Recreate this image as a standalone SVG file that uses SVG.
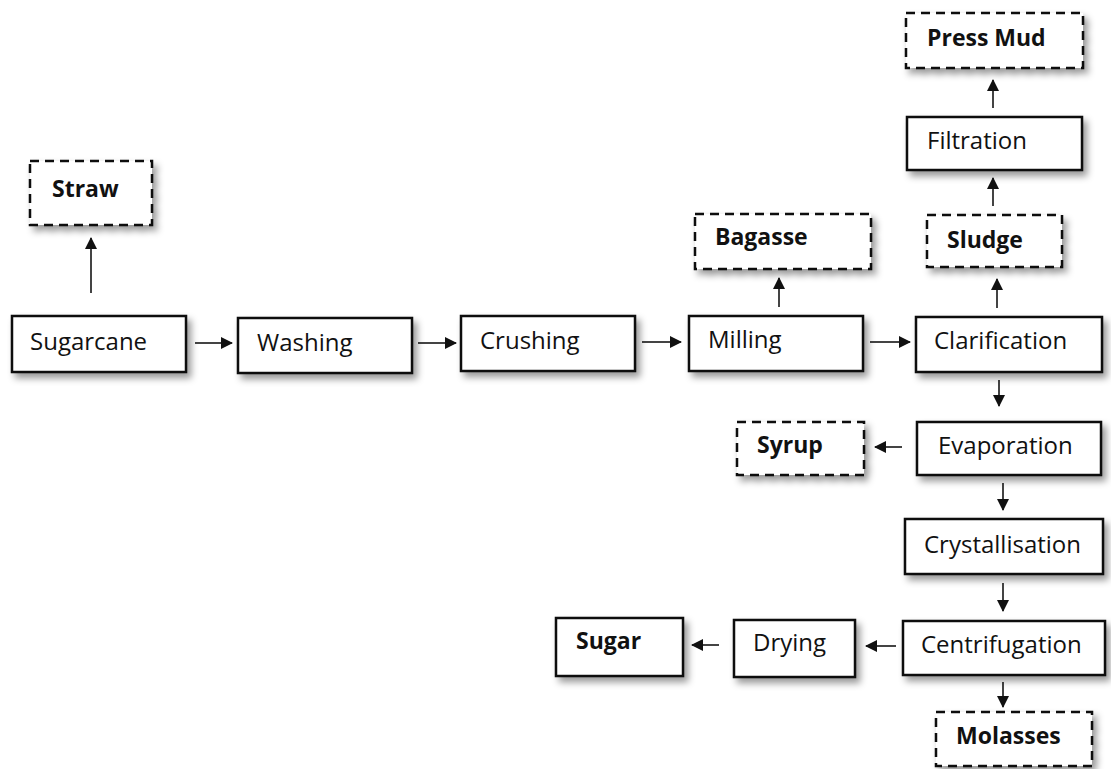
<svg xmlns="http://www.w3.org/2000/svg" width="1111" height="769" viewBox="0 0 1111 769">
<defs>
<filter id="sh" x="-20%" y="-30%" width="150%" height="170%">
<feDropShadow dx="4" dy="5" stdDeviation="3.5" flood-color="#000" flood-opacity="0.4"/>
</filter>
<marker id="ah" viewBox="0 0 12 12" refX="11" refY="6" markerWidth="12" markerHeight="12" markerUnits="userSpaceOnUse" orient="auto">
<path d="M0,0 L12,6 L0,12 Z" fill="#111"/>
</marker>
<style>
.box{fill:#fff;stroke:#111;stroke-width:2.5;filter:url(#sh)}
.dash{fill:#fff;stroke:#111;stroke-width:2.5;stroke-dasharray:9 6;filter:url(#sh)}
.t{font-family:"Open Sans","Liberation Sans",sans-serif;font-size:24px;fill:#111}
.b{font-family:"Open Sans","Liberation Sans",sans-serif;font-size:23px;font-weight:bold;fill:#111}
.c{stroke:#444;stroke-width:2;fill:none;marker-end:url(#ah)}
</style>
</defs>
<rect width="1111" height="769" fill="#fff"/>
<g id="connectors">
<line class="c" x1="91" y1="293" x2="91" y2="238"/>
<line class="c" x1="195" y1="343" x2="232" y2="343"/>
<line class="c" x1="418" y1="343" x2="456" y2="343"/>
<line class="c" x1="642" y1="342" x2="681" y2="342"/>
<line class="c" x1="870" y1="342" x2="910" y2="342"/>
<line class="c" x1="779" y1="307" x2="779" y2="278"/>
<line class="c" x1="997" y1="308" x2="997" y2="279"/>
<line class="c" x1="993" y1="206" x2="993" y2="178"/>
<line class="c" x1="993" y1="108" x2="993" y2="80"/>
<line class="c" x1="999" y1="380" x2="999" y2="406"/>
<line class="c" x1="902" y1="447" x2="875" y2="447"/>
<line class="c" x1="1003" y1="483" x2="1003" y2="510"/>
<line class="c" x1="1003" y1="583" x2="1003" y2="611"/>
<line class="c" x1="896" y1="646" x2="866" y2="646"/>
<line class="c" x1="719" y1="645" x2="692" y2="645"/>
<line class="c" x1="1003" y1="682" x2="1003" y2="707"/>
</g>
<g id="straw"><rect class="dash" x="30" y="161" width="122" height="64"/><text class="b" x="52" y="197">Straw</text></g>
<g id="sugarcane"><rect class="box" x="12" y="316" width="174" height="56"/><text class="t" x="30" y="350">Sugarcane</text></g>
<g id="washing"><rect class="box" x="238" y="318" width="174" height="55"/><text class="t" x="257" y="351">Washing</text></g>
<g id="crushing"><rect class="box" x="461" y="316" width="174" height="55"/><text class="t" x="480" y="349">Crushing</text></g>
<g id="milling"><rect class="box" x="689" y="316" width="174" height="55"/><text class="t" x="708" y="348">Milling</text></g>
<g id="clarification"><rect class="box" x="916" y="317" width="186" height="55"/><text class="t" x="934" y="349">Clarification</text></g>
<g id="bagasse"><rect class="dash" x="695" y="214" width="176" height="55"/><text class="b" x="715" y="245">Bagasse</text></g>
<g id="sludge"><rect class="dash" x="927" y="215" width="135" height="52"/><text class="b" x="947" y="248">Sludge</text></g>
<g id="filtration"><rect class="box" x="907" y="117" width="175" height="53"/><text class="t" x="927" y="149">Filtration</text></g>
<g id="pressmud"><rect class="dash" x="906" y="13" width="177" height="55"/><text class="b" x="927" y="46">Press Mud</text></g>
<g id="evaporation"><rect class="box" x="917" y="422" width="184" height="53"/><text class="t" x="938" y="454">Evaporation</text></g>
<g id="syrup"><rect class="dash" x="737" y="422" width="127" height="53"/><text class="b" x="757" y="453">Syrup</text></g>
<g id="crystallisation"><rect class="box" x="905" y="519" width="198" height="55"/><text class="t" x="924" y="553">Crystallisation</text></g>
<g id="centrifugation"><rect class="box" x="903" y="621" width="202" height="54"/><text class="t" x="921" y="653">Centrifugation</text></g>
<g id="drying"><rect class="box" x="734" y="620" width="121" height="57"/><text class="t" x="753" y="651">Drying</text></g>
<g id="sugar"><rect class="box" x="556" y="618" width="127" height="58"/><text class="b" x="576" y="649">Sugar</text></g>
<g id="molasses"><rect class="dash" x="936" y="712" width="156" height="54"/><text class="b" x="956" y="744">Molasses</text></g>
</svg>
